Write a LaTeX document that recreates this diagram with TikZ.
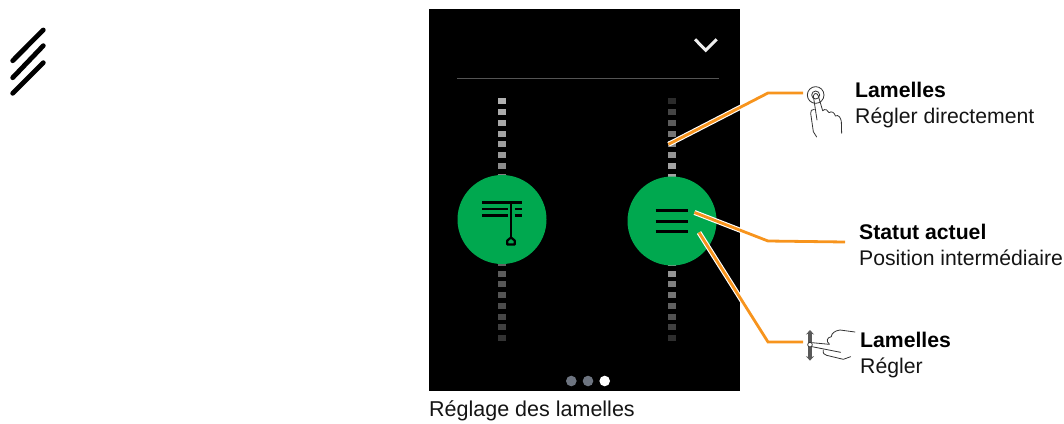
\documentclass[tikz,border=0pt]{standalone}
\usepackage{fontspec}
\setmainfont{Liberation Sans}
\usetikzlibrary{arrows.meta}
\definecolor{callout}{HTML}{F7941D}
\definecolor{btn}{HTML}{00A84F}
\definecolor{pagedot}{HTML}{6D7480}
\tikzset{
 lbl/.style={anchor=base west,inner sep=0pt,font=\fontsize{21.2}{24}\selectfont,text=black!92},
 lblb/.style={lbl,font=\fontsize{21.2}{24}\selectfont\bfseries,text=black},
 halo/.style={white,line width=5pt},
 lead/.style={callout,line width=2.8pt},
 iconline/.style={black,line width=3pt},
 handline/.style={black!80,line width=0.8pt,line cap=round,line join=round},
 tick/.style={minimum width=8pt,minimum height=6pt,inner sep=0pt,draw=none,rectangle},
 btnc/.style={circle,fill=btn,minimum size=89pt,inner sep=0pt,draw=none},
 pdot/.style={circle,minimum size=10.6pt,inner sep=0pt,draw=none},
}
\begin{document}
\begin{tikzpicture}[x=1pt,y=-1pt]
\useasboundingbox (0,0) rectangle (1064,423);
% corner mark
\foreach \a/\b/\c/\d in {12.7/60.7/43.3/30,12.7/77.7/43.3/45.7,12.7/93.3/43.3/62.7}
  \draw[black,line width=4.8pt,line cap=round] (\a,\b) -- (\c,\d);
% screen
\node[fill=black,minimum width=311pt,minimum height=382pt,inner sep=0pt,anchor=north west] (screen) at (429,9) {};
\draw[white!33!black,line width=1.6pt] (457,78.3) -- (719,78.3);
\draw[white!93!black,line width=3pt] (695,39.3) -- (705.7,50.3) -- (716.7,39.3);
% ticks
\foreach \i/\y/\s in {1/101/69,2/112/67,3/122.7/66,4/133.5/64,5/144.3/62,6/155/60,7/165.7/55,8/176.5/50}
  \node[tick,fill=white!\s!black] (la\i) at (502,\y) {};
\foreach \i/\y/\s in {1/263/38,2/273.5/36,3/284.2/34,4/295/33,5/305.8/30,6/316.5/28,7/327.2/25,8/338/20}
  \node[tick,fill=white!\s!black] (lb\i) at (502,\y) {};
\foreach \i/\y/\s in {1/101/17,2/112/27,3/122.7/36,4/133.5/46,5/144.3/52,6/155/58,7/165.7/64,8/176.5/64}
  \node[tick,fill=white!\s!black] (ra\i) at (672,\y) {};
\foreach \i/\y/\s in {1/263/60,2/273.5/58,3/284.2/50,4/295/46,5/305.8/38,6/316.5/32,7/327.2/25,8/338/18}
  \node[tick,fill=white!\s!black] (rb\i) at (672,\y) {};
% buttons
\node[btnc] (left) at (502,219.5) {};
\node[btnc] (right) at (672,221) {};
% left icon
\draw[black,line width=2.4pt] (482.3,202.4) -- (521.7,202.4)
  (482.3,209) -- (508.3,209) (514.7,209) -- (521.7,209)
  (482.3,215.5) -- (508.3,215.5) (514.7,215.5) -- (521.7,215.5);
\draw[black,line width=2.2pt] (511,202) -- (511,238);
\draw[black,line width=2.2pt,line join=round] (507.3,244.5) -- (514.7,244.5) -- (514.7,240.5) -- (511,237.5) -- (507.3,240.5) -- cycle;
% right icon
\draw[iconline] (655.7,210) -- (687.7,210) (655.7,221) -- (687.7,221) (655.7,231.7) -- (687.7,231.7);
% page dots
\node[pdot,fill=pagedot] (p1) at (571.3,381) {};
\node[pdot,fill=pagedot] (p2) at (588,381) {};
\node[pdot,fill=white] (p3) at (604.7,381) {};
% connectors
\coordinate (a0) at (668.5,144.3); \coordinate (a1) at (768,93); \coordinate (a2) at (803,93);
\coordinate (b0) at (694.5,212.5); \coordinate (b1) at (768,241); \coordinate (b2) at (845,242);
\coordinate (c0) at (699,232.5); \coordinate (c1) at (768,342); \coordinate (c2) at (803,342);
\begin{scope}
\clip (429,9) rectangle (740,391);
\draw[halo] (a0) -- (a1); \draw[halo] (b0) -- (b1); \draw[halo] (c0) -- (c1);
\end{scope}
\draw[lead] (a0) -- (a1) -- (a2);
\draw[lead] (b0) -- (b1) -- (b2);
\draw[lead] (c0) -- (c1) -- (c2);
% tap hand
\begin{scope}[shift={(760,70)},x=0.3333pt,y=-0.3333pt]
\draw[handline] (167,75) circle (25);
\draw[handline] (167,75) circle (12);
\draw[handline] (160,78) .. controls (162,68) and (172,68) .. (175,78) -- (188,122) .. controls (195,115) and (205,120) .. (207,128)
  .. controls (215,122) and (224,128) .. (226,138) .. controls (236,132) and (243,145) .. (244,155) -- (245,190);
\draw[handline] (160,78) -- (171,150);
\draw[handline] (163,118) .. controls (155,118) and (151,122) .. (152,130) -- (160,185) -- (170,201);
\end{scope}
% swipe hand
\begin{scope}[shift={(760,320)},x=0.3333pt,y=-0.3333pt]
\draw[{Stealth[length=4.5pt,width=8pt]}-{Stealth[length=4.5pt,width=8pt]},black!65,line width=3.6pt] (150,30) -- (150,122);
\draw[handline,fill=white] (150,74) circle (7);
\draw[handline] (156,68) -- (208,73);
\draw[handline] (156,80) -- (242,97);
\draw[handline] (208,72) .. controls (198,65) and (200,52) .. (214,50) .. controls (214,40) and (225,32) .. (240,30) -- (285,36);
\draw[handline] (190,90) .. controls (188,100) and (192,104) .. (200,106) -- (250,118) -- (272,110);
\end{scope}
% labels
\node[lblb] (t1) at (855,97.5) {Lamelles};
\node[lbl] (t2) at (855,123.3) {Régler directement};
\node[lblb] (t3) at (859,239.3) {Statut actuel};
\node[lbl] (t4) at (859,265) {Position intermédiaire};
\node[lblb] (t5) at (860,347) {Lamelles};
\node[lbl] (t6) at (860,373) {Régler};
\node[lbl,font=\fontsize{21.5}{24}\selectfont] (t7) at (429,416.7) {Réglage des lamelles};
\end{tikzpicture}
\end{document}
